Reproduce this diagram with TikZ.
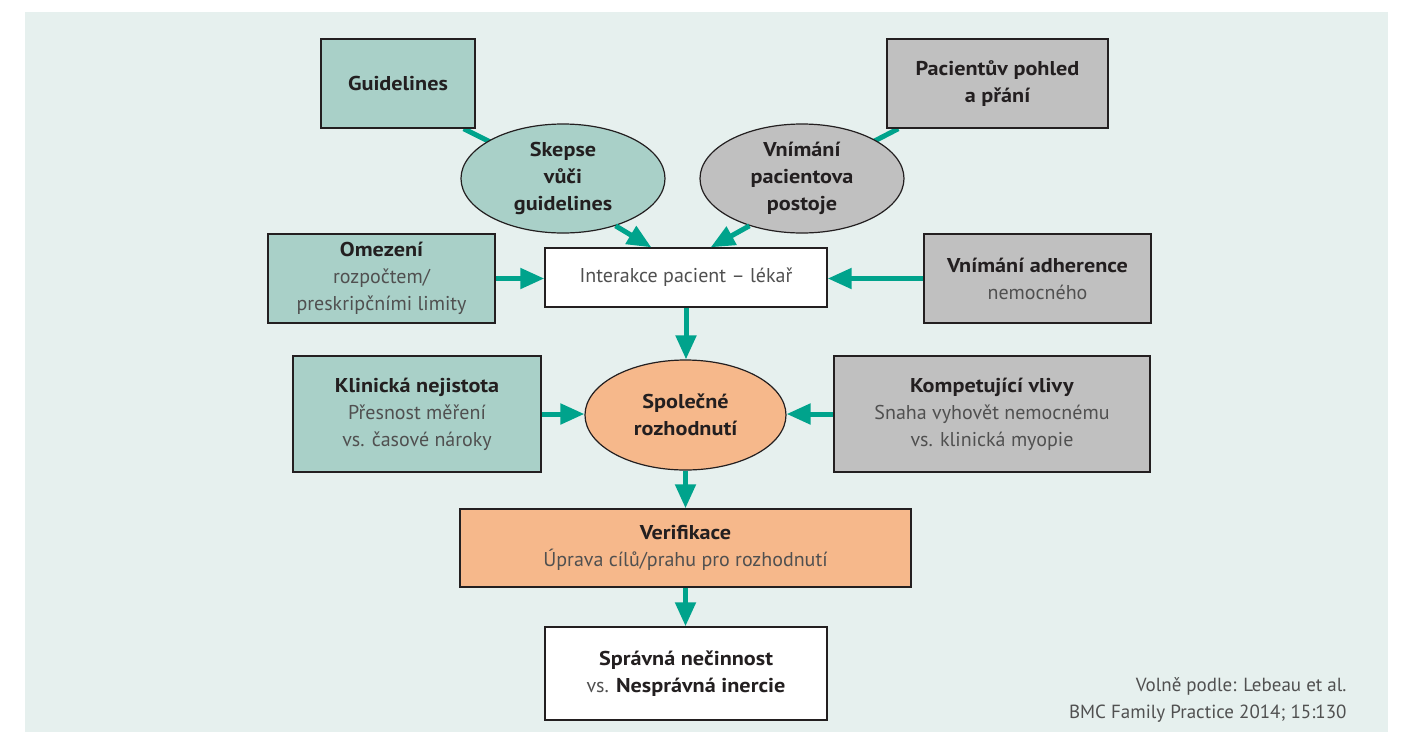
\documentclass[tikz,border=0pt]{standalone}
\usepackage{fontspec}
\setmainfont{PT Sans}[BoldFeatures={FakeStretch=1.11}]
\usetikzlibrary{shapes.geometric,arrows.meta}
\definecolor{bgc}{HTML}{E6F0EE}
\definecolor{tealf}{HTML}{A9D0C8}
\definecolor{grayf}{HTML}{C0C0C0}
\definecolor{orf}{HTML}{F6B88B}
\definecolor{arrc}{HTML}{00A38C}
\definecolor{edge}{HTML}{231F20}
\definecolor{txtg}{HTML}{505050}
\pgfdeclarelayer{bglayer}
\pgfdeclarelayer{backlines}
\pgfsetlayers{bglayer,backlines,main}
\begin{document}
\begin{tikzpicture}[x=1pt,y=-1pt,
  every node/.style={font=\fontsize{20}{27}\selectfont, text=edge, align=center},
  rbox/.style={draw=edge, line width=1.4pt, rectangle, inner sep=0pt},
  ebox/.style={draw=edge, line width=1.2pt, ellipse, inner sep=0pt},
  arr/.style={draw=arrc, line width=5pt, -{Triangle[length=24pt,width=20pt]}},
  link/.style={draw=arrc, line width=5pt}]
\useasboundingbox (0,0) rectangle (1401,732);
\begin{pgfonlayer}{bglayer}
\fill[bgc] (25,12) rectangle (1388,732);
\end{pgfonlayer}

\node[rbox, fill=tealf, minimum width=154pt, minimum height=89pt] (g) at (398,83.5) {\textbf{Guidelines}};
\node[rbox, fill=grayf, minimum width=221pt, minimum height=89pt] (p) at (997.5,83.5) {\textbf{Pacientův pohled}\\\textbf{a přání}};
\node[ebox, fill=tealf, minimum width=204pt, minimum height=109pt] (sk) at (563,178.5) {\textbf{Skepse}\\\textbf{vůči}\\\textbf{guidelines}};
\node[ebox, fill=grayf, minimum width=204pt, minimum height=109pt] (vn) at (802,178.5) {\textbf{Vnímání}\\\textbf{pacientova}\\\textbf{postoje}};
\node[rbox, fill=white, minimum width=282pt, minimum height=59pt] (in) at (686,277.5) {\textcolor{txtg}{Interakce pacient – lékař}};
\node[rbox, fill=tealf, minimum width=227pt, minimum height=89pt] (om) at (381.5,278.5) {\textbf{Omezení}\\\textcolor{txtg}{rozpočtem/}\\\textcolor{txtg}{preskripčními limity}};
\node[rbox, fill=grayf, minimum width=227pt, minimum height=89pt] (ad) at (1037.5,278.5) {\textbf{Vnímání adherence}\\\textcolor{txtg}{nemocného}};
\node[ebox, fill=orf, minimum width=201pt, minimum height=110pt] (sp) at (685.5,415) {\textbf{Společné}\\\textbf{rozhodnutí}};
\node[rbox, fill=tealf, minimum width=248pt, minimum height=116pt] (kl) at (417,414) {\textbf{Klinická nejistota}\\\textcolor{txtg}{Přesnost měření}\\\textcolor{txtg}{vs. časové nároky}};
\node[rbox, fill=grayf, minimum width=316pt, minimum height=116pt] (ko) at (992,414) {\textbf{Kompetující vlivy}\\\textcolor{txtg}{Snaha vyhovět nemocnému}\\\textcolor{txtg}{vs. klinická myopie}};
\node[rbox, fill=orf, minimum width=451pt, minimum height=78pt] (ve) at (685.5,548) {\textbf{Verifikace}\\\textcolor{txtg}{Úprava cílů/prahu pro rozhodnutí}};
\node[rbox, fill=white, minimum width=282pt, minimum height=93pt] (sr) at (686,673.5) {\textbf{Správná nečinnost}\\\textcolor{txtg}{vs.} \textbf{Nesprávná inercie}};
\node[anchor=east, align=right, text=txtg, font=\fontsize{19}{27}\selectfont] (cr) at (1350,700) {Volně podle: Lebeau et al.\\BMC Family Practice 2014; 15:130};

\begin{pgfonlayer}{backlines}
\draw[link] ([xshift=-12pt]g.south east) -- (sk.center);
\draw[link] ([xshift=12pt]p.south west) -- (vn.center);
\end{pgfonlayer}

\draw[arr] (sk.-42) -- ([xshift=107pt]in.north west);
\draw[arr] (vn.-138) -- ([xshift=-117pt]in.north east);
\draw[arr] (om.east) -- (om.east -| in.west);
\draw[arr] (ad.west) -- (ad.west -| in.east);
\draw[arr] (in.south) -- (in.south |- sp.north);
\draw[arr] (kl.east) -- (kl.east -| sp.west);
\draw[arr] (ko.west) -- (ko.west -| sp.east);
\draw[arr] (sp.south) -- (sp.south |- ve.north);
\draw[arr] (ve.south) -- (ve.south |- sr.north);
\end{tikzpicture}
\end{document}
